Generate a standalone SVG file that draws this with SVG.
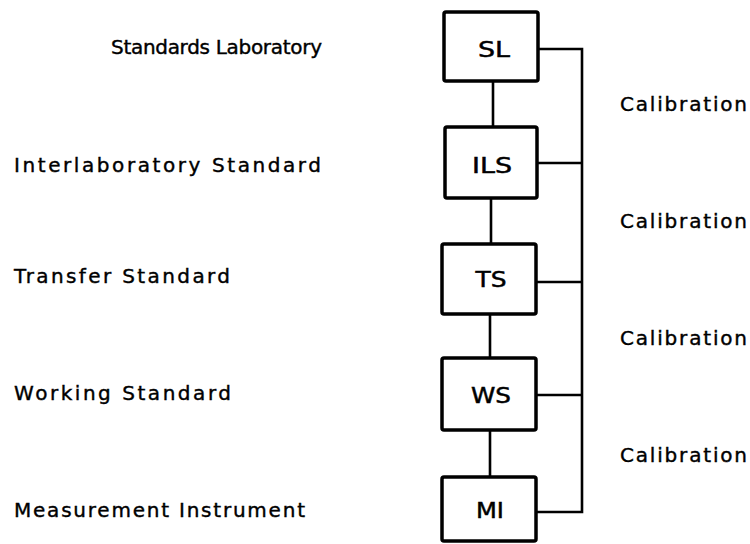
<svg xmlns="http://www.w3.org/2000/svg" width="750" height="544" viewBox="0 0 750 544">
<style>
.box{fill:#fff;stroke:#000;stroke-width:3.5;stroke-linejoin:round}
.ln{fill:none;stroke:#000;stroke-width:2.6}
.lbl{font-family:"DejaVu Sans","Liberation Sans",sans-serif;font-size:20px;fill:#000;stroke:#000;stroke-width:0.4}
.bl{font-family:"DejaVu Sans","Liberation Sans",sans-serif;font-size:22px;fill:#000;stroke:#000;stroke-width:0.5;text-anchor:middle}
</style>
<rect width="750" height="544" fill="#fff"/>
<g id="connectors">
<path class="ln" d="M493 81V127M491 198V244M490 314V358M490 430V477"/>
<path class="ln" d="M538 49H582V512H536M537 163H582M536 282H582M536 395H582"/>
</g>
<g id="SL"><rect class="box" x="444" y="12" width="94" height="69" rx="2"/><text class="bl" x="494" y="57" textLength="32" lengthAdjust="spacingAndGlyphs">SL</text></g>
<g id="ILS"><rect class="box" x="445" y="127" width="92" height="71" rx="2"/><text class="bl" x="492" y="173" textLength="40" lengthAdjust="spacingAndGlyphs">ILS</text></g>
<g id="TS"><rect class="box" x="442" y="244" width="94" height="70" rx="2"/><text class="bl" x="491" y="287" textLength="31" lengthAdjust="spacingAndGlyphs">TS</text></g>
<g id="WS"><rect class="box" x="442" y="358" width="94" height="72" rx="2"/><text class="bl" x="491" y="403" textLength="40" lengthAdjust="spacingAndGlyphs">WS</text></g>
<g id="MI"><rect class="box" x="442" y="477" width="94" height="64" rx="2"/><text class="bl" x="490" y="518" textLength="28" lengthAdjust="spacingAndGlyphs">MI</text></g>
<g id="labels">
<text class="lbl" x="111" y="54" textLength="211" lengthAdjust="spacing">Standards Laboratory</text>
<text class="lbl" x="14" y="172" textLength="307" lengthAdjust="spacing">Interlaboratory Standard</text>
<text class="lbl" x="14" y="283" textLength="216" lengthAdjust="spacing">Transfer Standard</text>
<text class="lbl" x="14" y="400" textLength="217" lengthAdjust="spacing">Working Standard</text>
<text class="lbl" x="14" y="517" textLength="291" lengthAdjust="spacing">Measurement Instrument</text>
<text class="lbl" x="620" y="111" textLength="127" lengthAdjust="spacing">Calibration</text>
<text class="lbl" x="620" y="228" textLength="127" lengthAdjust="spacing">Calibration</text>
<text class="lbl" x="620" y="345" textLength="127" lengthAdjust="spacing">Calibration</text>
<text class="lbl" x="620" y="462" textLength="127" lengthAdjust="spacing">Calibration</text>
</g>
</svg>
